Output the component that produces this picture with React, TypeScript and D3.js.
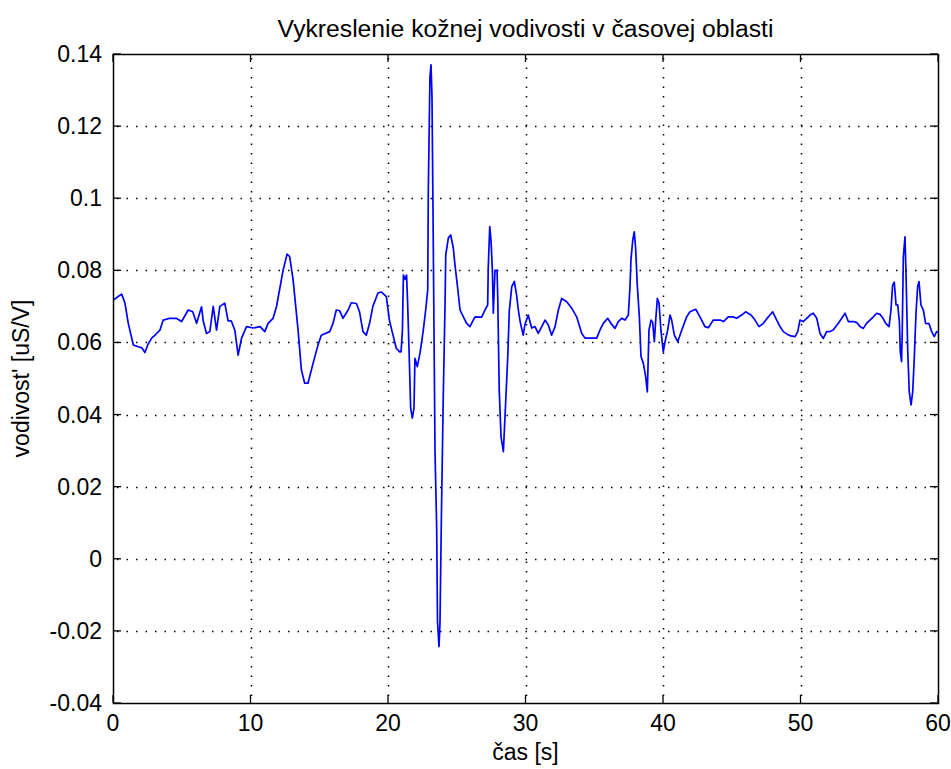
import React from "react";
import * as d3 from "d3";

const timeS: number[] = [
  0.05, 0.4, 0.63, 0.87, 1.11, 1.48, 1.84, 2.1, 2.32, 2.55, 2.81, 3.1, 3.41, 3.65, 4.14, 4.6, 4.99, 5.47, 5.8, 6.08,
  6.44, 6.56, 6.8, 7.04, 7.29, 7.53, 7.77, 8.13, 8.25, 8.37, 8.6, 8.86, 9.1, 9.35, 9.71, 10.2, 10.7, 11.04, 11.28, 11.64,
  11.89, 12.37, 12.66, 12.85, 13.1, 13.46, 13.7, 13.94, 14.18, 14.55, 14.91, 15.15, 15.76, 16.0, 16.24, 16.48, 16.73, 17.1, 17.33, 17.7,
  17.93, 18.18, 18.42, 18.66, 18.9, 19.27, 19.51, 19.88, 20.1, 20.36, 20.6, 20.85, 20.95, 21.05, 21.12, 21.25, 21.35, 21.42, 21.53, 21.65,
  21.77, 21.89, 21.96, 22.13, 22.33, 22.57, 22.74, 22.89, 22.93, 23.05, 23.13, 23.2, 23.29, 23.42, 23.54, 23.6, 23.71, 23.78, 23.88, 24.02,
  24.15, 24.2, 24.39, 24.56, 24.75, 24.87, 25.04, 25.24, 25.48, 25.72, 25.96, 26.2, 26.33, 26.81, 27.05, 27.25, 27.29, 27.4, 27.49, 27.59,
  27.66, 27.78, 27.93, 27.98, 28.09, 28.22, 28.39, 28.56, 28.71, 28.82, 29.0, 29.19, 29.36, 29.48, 29.6, 29.72, 29.84, 29.96, 30.2, 30.45,
  30.69, 30.93, 31.18, 31.42, 31.66, 31.9, 32.15, 32.39, 32.63, 33.0, 33.36, 33.72, 34.09, 34.33, 34.81, 35.18, 35.42, 35.66, 35.98, 36.27,
  36.51, 36.75, 37.0, 37.24, 37.48, 37.6, 37.67, 37.8, 37.91, 38.01, 38.13, 38.28, 38.4, 38.57, 38.74, 38.86, 38.98, 39.13, 39.25, 39.37,
  39.47, 39.59, 39.71, 39.85, 40.02, 40.15, 40.34, 40.51, 40.63, 40.82, 41.07, 41.36, 41.72, 41.96, 42.38, 42.69, 43.05, 43.3, 43.66, 44.15,
  44.4, 44.75, 45.1, 45.36, 45.72, 46.01, 46.4, 46.69, 46.98, 47.3, 47.66, 47.98, 48.27, 48.51, 48.75, 49.11, 49.3, 49.6, 49.8, 49.96,
  50.2, 50.45, 50.69, 50.93, 51.18, 51.42, 51.66, 51.9, 52.15, 52.39, 52.75, 53.0, 53.24, 53.48, 53.84, 54.1, 54.33, 54.57, 54.8, 55.05,
  55.3, 55.54, 55.78, 56.0, 56.2, 56.44, 56.58, 56.7, 56.82, 56.95, 57.07, 57.19, 57.26, 57.35, 57.4, 57.48, 57.6, 57.67, 57.8, 57.91,
  58.04, 58.16, 58.28, 58.4, 58.52, 58.62, 58.76, 58.93, 59.1, 59.35, 59.54, 59.73, 59.9, 60.0,
];

const conductance: number[] = [
  0.0718, 0.0728, 0.0734, 0.0709, 0.0653, 0.0593, 0.0588, 0.0585, 0.0572, 0.0595, 0.0612, 0.0622, 0.0634, 0.0662, 0.0667, 0.0667, 0.0658, 0.069, 0.0685, 0.0653,
  0.0699, 0.066, 0.0625, 0.063, 0.07, 0.0634, 0.07, 0.0709, 0.0685, 0.066, 0.066, 0.0634, 0.0565, 0.0612, 0.0644, 0.064, 0.0644, 0.063, 0.0653, 0.0667,
  0.0699, 0.08, 0.0845, 0.0838, 0.0773, 0.0634, 0.0524, 0.0487, 0.0487, 0.0542, 0.0593, 0.062, 0.063, 0.0653, 0.069, 0.0688, 0.0667, 0.069, 0.071, 0.0708,
  0.0685, 0.063, 0.062, 0.0653, 0.07, 0.0737, 0.074, 0.0727, 0.0662, 0.0621, 0.0584, 0.0574, 0.0574, 0.0635, 0.0787, 0.0775, 0.0787, 0.0718, 0.0579, 0.0417,
  0.039, 0.0418, 0.0556, 0.0533, 0.0571, 0.0635, 0.069, 0.0746, 0.1015, 0.1335, 0.137, 0.128, 0.089, 0.0297, 0.0085, -0.0174, -0.0244, -0.0178, 0.0108, 0.045,
  0.071, 0.0843, 0.089, 0.0898, 0.0862, 0.0815, 0.076, 0.069, 0.0671, 0.0653, 0.0644, 0.0662, 0.0671, 0.067, 0.069, 0.0704, 0.0806, 0.0921, 0.0884, 0.0801,
  0.0681, 0.08, 0.08, 0.0727, 0.0468, 0.0339, 0.0297, 0.0436, 0.0561, 0.0686, 0.0755, 0.0769, 0.073, 0.069, 0.066, 0.0639, 0.062, 0.065, 0.0676, 0.064,
  0.0644, 0.0625, 0.0644, 0.0662, 0.0648, 0.062, 0.0644, 0.069, 0.0722, 0.0713, 0.0695, 0.0671, 0.0625, 0.0612, 0.0612, 0.0612, 0.0635, 0.0653, 0.0667, 0.065,
  0.0639, 0.0658, 0.0667, 0.0662, 0.0676, 0.0755, 0.0829, 0.0884, 0.0907, 0.0861, 0.0759, 0.0671, 0.0561, 0.0542, 0.0505, 0.0463, 0.0634, 0.0662, 0.0655, 0.0602,
  0.0662, 0.0722, 0.0709, 0.0634, 0.0574, 0.0602, 0.0634, 0.0676, 0.0662, 0.0621, 0.0602, 0.0634, 0.0671, 0.0685, 0.0692, 0.0671, 0.0644, 0.0641, 0.0662, 0.0662,
  0.0658, 0.0671, 0.0671, 0.0667, 0.0676, 0.0685, 0.0676, 0.0662, 0.0644, 0.0653, 0.0671, 0.0685, 0.0662, 0.0644, 0.063, 0.0621, 0.0618, 0.0616, 0.063, 0.0662,
  0.0658, 0.0667, 0.0676, 0.0681, 0.0667, 0.0625, 0.0611, 0.063, 0.063, 0.0635, 0.0653, 0.0667, 0.0681, 0.0658, 0.0658, 0.0655, 0.0644, 0.0639, 0.0653, 0.0662,
  0.0671, 0.0681, 0.0678, 0.0667, 0.0653, 0.0644, 0.069, 0.0759, 0.0767, 0.0704, 0.0704, 0.0658, 0.0574, 0.0547, 0.0634, 0.0838, 0.0893, 0.0796, 0.0574, 0.0463,
  0.0427, 0.0463, 0.0561, 0.0681, 0.0755, 0.0769, 0.0704, 0.069, 0.0653, 0.0652, 0.063, 0.0616, 0.063, 0.0628,
];

const xTicks: number[] = [0, 10, 20, 30, 40, 50, 60];
const yTicks: number[] = [-0.04, -0.02, 0, 0.02, 0.04, 0.06, 0.08, 0.1, 0.12, 0.14];
const yTickLabels: string[] = ["-0.04", "-0.02", "0", "0.02", "0.04", "0.06", "0.08", "0.1", "0.12", "0.14"];
const xTickLabels: string[] = ["0", "10", "20", "30", "40", "50", "60"];

const titleText = "Vykreslenie kožnej vodivosti v časovej oblasti";
const xLabelText = "čas [s]";
const yLabelText = "vodivost' [uS/V]";

const W = 951;
const H = 769;
const left = 113;
const right = 938;
const top = 54;
const bottom = 703;
const FONT = "'Liberation Sans', Arial, Helvetica, sans-serif";

export default function App() {
  const x = d3.scaleLinear().domain([0, 60]).range([left, right]);
  const y = d3.scaleLinear().domain([-0.04, 0.14]).range([bottom, top]);
  const pts: [number, number][] = timeS.map((t, i) => [t, conductance[i]]);
  const line = d3
    .line<[number, number]>()
    .x((d) => x(d[0]))
    .y((d) => y(d[1]));
  const tickLen = 8;
  const gridColor = "#000";
  return (
    <svg
      width={W}
      height={H}
      style={{ position: "absolute", left: 0, top: 0, background: "#fff" }}
    >
      <rect x={0} y={0} width={W} height={H} fill="#fff" />
      {/* grid */}
      {xTicks
        .filter((t) => t > 0 && t < 60)
        .map((t) => (
          <line
            key={"gx" + t}
            x1={Math.round(x(t)) + 0.5}
            x2={Math.round(x(t)) + 0.5}
            y1={top + 4}
            y2={bottom}
            stroke={gridColor}
            strokeWidth={1.5}
            strokeDasharray="1.5 8"
          />
        ))}
      {yTicks
        .filter((t, i) => i > 0 && i < yTicks.length - 1)
        .map((t) => (
          <line
            key={"gy" + t}
            x1={left + 4}
            x2={right}
            y1={Math.round(y(t)) + 0.5}
            y2={Math.round(y(t)) + 0.5}
            stroke={gridColor}
            strokeWidth={1.5}
            strokeDasharray="1.5 8"
          />
        ))}
      {/* data line */}
      <path d={line(pts) || ""} fill="none" stroke="#0000ff" strokeWidth={1.7} strokeLinejoin="round" />
      {/* box */}
      <rect
        x={left + 0.5}
        y={top + 0.5}
        width={right - left}
        height={bottom - top}
        fill="none"
        stroke="#000"
        strokeWidth={1.5}
      />
      {/* ticks */}
      {xTicks.map((t) => (
        <g key={"tx" + t}>
          <line x1={x(t)} x2={x(t)} y1={bottom} y2={bottom - tickLen} stroke="#000" strokeWidth={1.3} />
          <line x1={x(t)} x2={x(t)} y1={top} y2={top + tickLen} stroke="#000" strokeWidth={1.3} />
        </g>
      ))}
      {yTicks.map((t) => (
        <g key={"ty" + t}>
          <line x1={left} x2={left + tickLen} y1={y(t)} y2={y(t)} stroke="#000" strokeWidth={1.3} />
          <line x1={right} x2={right - tickLen} y1={y(t)} y2={y(t)} stroke="#000" strokeWidth={1.3} />
        </g>
      ))}
      {/* tick labels */}
      {xTicks.map((t, i) => (
        <text
          key={"lx" + t}
          x={x(t)}
          y={731}
          textAnchor="middle"
          fontFamily={FONT}
          fontSize={23}
          fill="#000"
        >
          {xTickLabels[i]}
        </text>
      ))}
      {yTicks.map((t, i) => (
        <text
          key={"ly" + t}
          x={102}
          y={y(t) + 8}
          textAnchor="end"
          fontFamily={FONT}
          fontSize={23}
          fill="#000"
        >
          {yTickLabels[i]}
        </text>
      ))}
      {/* title */}
      <text x={(left + right) / 2} y={37} textAnchor="middle" fontFamily={FONT} fontSize={24.7} fill="#000">
        {titleText}
      </text>
      {/* x label */}
      <text x={(left + right) / 2} y={760} textAnchor="middle" fontFamily={FONT} fontSize={23} fill="#000">
        {xLabelText}
      </text>
      {/* y label */}
      <text
        transform={`translate(29, ${(top + bottom) / 2}) rotate(-90)`}
        textAnchor="middle"
        fontFamily={FONT}
        fontSize={23}
        fill="#000"
      >
        {yLabelText}
      </text>
    </svg>
  );
}
